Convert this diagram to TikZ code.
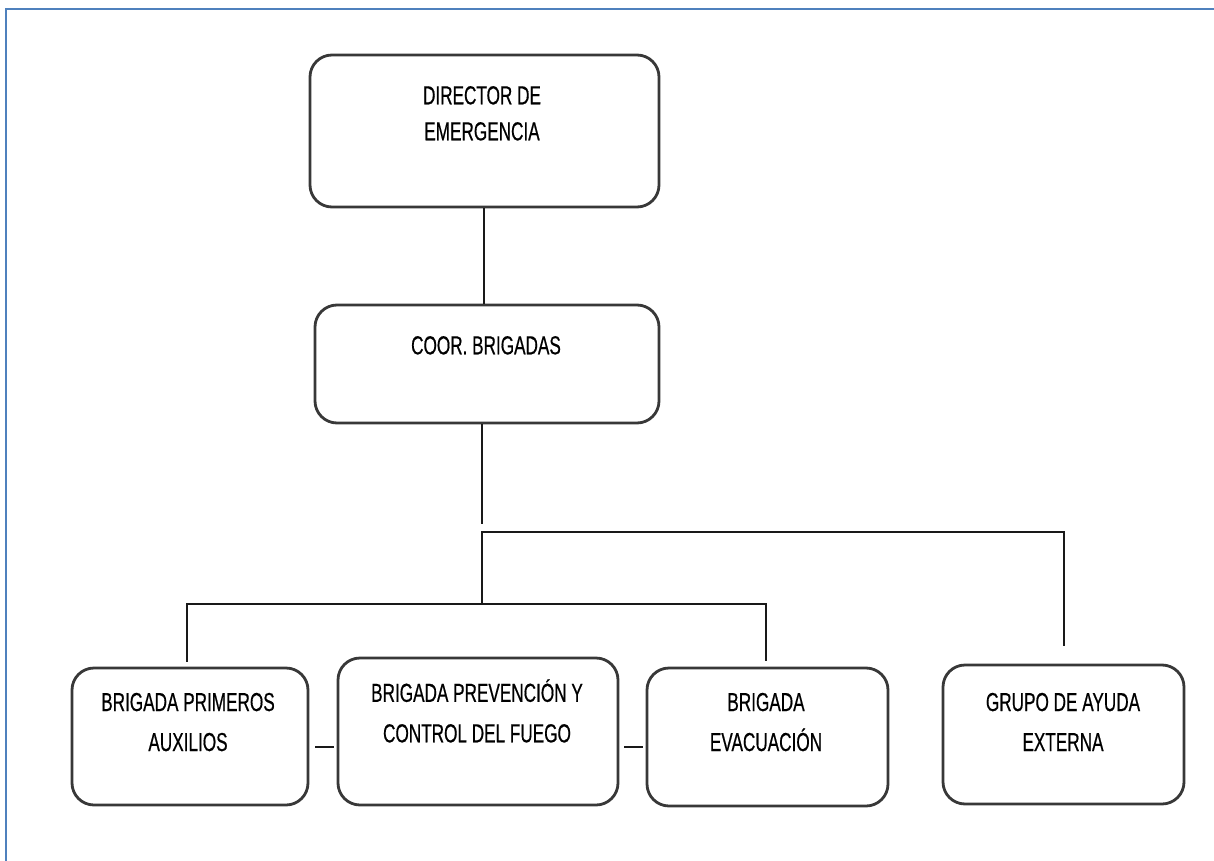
\documentclass[tikz,border=0pt]{standalone}
\usepackage{fontspec}
\setmainfont{Liberation Sans}
\newfontfamily\narrowsf[FakeStretch=0.66,FakeBold=0.5]{Liberation Sans}
\definecolor{frameblue}{HTML}{4F81BD}
\begin{document}
\begin{tikzpicture}[x=0.5pt,y=-0.5pt,
  box/.style={draw=black!78,line width=1.4pt,rounded corners=11pt,inner sep=0pt,fill=white},
  conn/.style={draw=black!90,line width=1pt},
  txt/.style={align=center,inner sep=0pt,anchor=base,font=\narrowsf\fontsize{13pt}{20pt}\selectfont},
  txtB/.style={txt,font=\narrowsf\fontsize{13pt}{18pt}\selectfont}]
\useasboundingbox (0,0) rectangle (1214,861);
% frame (top and left edges visible)
\draw[frameblue,line width=1.1pt] (6,861) -- (6,9) -- (1214,9);

% boxes
\node[box,minimum width=174.5pt,minimum height=76pt] (dir) at (484.5,131) {};
\node[box,minimum width=172pt,minimum height=59pt] (coor) at (487,364) {};
\node[box,minimum width=118pt,minimum height=68.5pt] (prim) at (190,736.5) {};
\node[box,minimum width=140pt,minimum height=73.5pt] (prev) at (478,731.5) {};
\node[box,minimum width=120.5pt,minimum height=69pt] (evac) at (767.5,737) {};
\node[box,minimum width=120.5pt,minimum height=69.5pt] (grupo) at (1063.5,734.5) {};

% texts (anchor=base is the baseline of the last line)
\node[txtB] (dirt) at (482,140.3) {DIRECTOR DE\\EMERGENCIA};
\node[txt] (coort) at (486,354.3) {COOR. BRIGADAS};
\node[txt] (primt) at (188,751) {BRIGADA PRIMEROS\\AUXILIOS};
\node[txt,font=\narrowsf\fontsize{13pt}{20.25pt}\selectfont] (prevt) at (477,742.3) {BRIGADA PREVENCIÓN Y\\CONTROL DEL FUEGO};
\node[txt] (evact) at (766,751) {BRIGADA\\EVACUACIÓN};
\node[txt] (grupot) at (1063,751) {GRUPO DE AYUDA\\EXTERNA};

% connectors
\coordinate (hubA) at (482,524);
\coordinate (j2) at (482,532);
\coordinate (j1) at (482,604);
\coordinate (dy) at (0,747);
\coordinate (dx) at (484,0);

\draw[conn] (dx |- dir.south) -- (dx |- coor.north);
\draw[conn] (hubA |- coor.south) -- (hubA);
\draw[conn,shorten >=9pt] (j1) -- (j2) -| (grupo.north);
\draw[conn,shorten <=2.5pt,shorten >=3pt] ([xshift=-1.5pt]prim.north) -- ([xshift=-1.5pt]prim.north |- j1) -- ([xshift=-0.75pt]evac.north |- j1) -- ([xshift=-0.75pt]evac.north);
\draw[conn,shorten <=3pt,shorten >=1.5pt] (prim.east |- dy) -- (prev.west |- dy);
\draw[conn,shorten <=2.5pt,shorten >=1.5pt] (prev.east |- dy) -- (evac.west |- dy);
\end{tikzpicture}
\end{document}
